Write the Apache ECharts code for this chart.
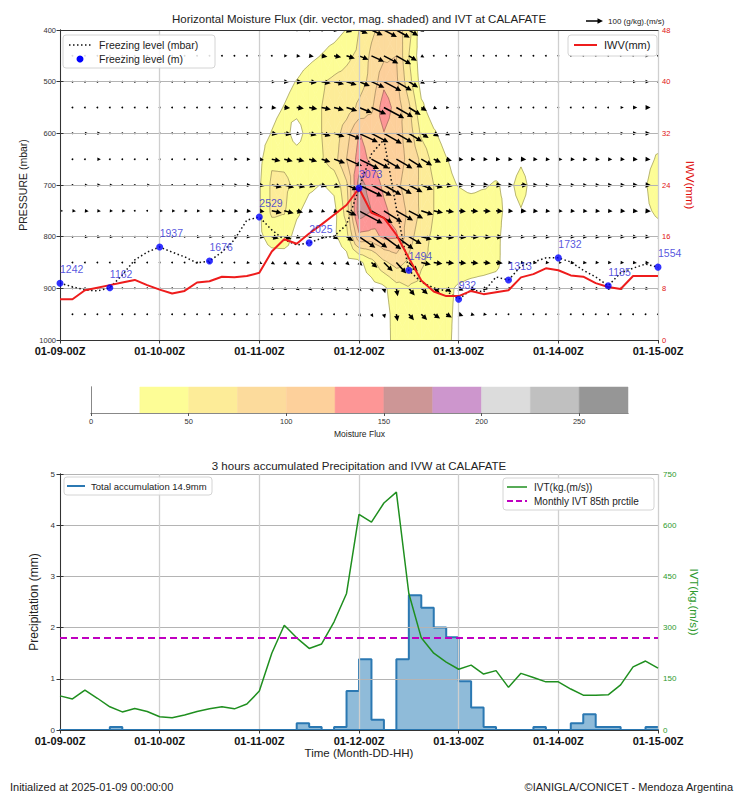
<!DOCTYPE html>
<html><head><meta charset="utf-8">
<script src="https://cdn.jsdelivr.net/npm/echarts@6/dist/echarts.min.js"></script>
<style>html,body{margin:0;padding:0;background:#fff}#c{width:741px;height:797px}</style>
</head><body><div id="c"></div>
<script>
// ---------------- DATA ----------------
const dayLabels = ['01-09-00Z','01-10-00Z','01-11-00Z','01-12-00Z','01-13-00Z','01-14-00Z','01-15-00Z'];
const hours = Array.from({length: 49}, (_, i) => i * 3);           // 3-hourly time steps (hours since init)
const pressureLevels = [400,450,500,550,600,650,700,750,800,850,900,950,1000];

// moisture flux magnitude, one row per pressure level (49 time steps)
const flux400  = [3,3,3,3,3,3,3,3, 3,3,3,3,3,3,4,4, 4,4,6,8,10,12,15,26, 50,70,85,90,60,10,6,5, 4,4,4,4,4,4,4,4, 4,4,4,4,4,4,4,4, 4];
const flux450  = [3,3,3,3,3,3,3,3, 3,3,3,3,3,4,4,5, 5,6,8,12,18,26,35,45, 55,80,95,100,50,10,6,4, 4,4,4,4,4,4,4,4, 4,4,4,4,4,4,5,10, 6];
const flux500  = [3,3,4,4,4,4,4,4, 4,4,4,5,5,5,5,5, 6,10,18,26,38,48,55,58, 65,82,118,105,60,15,8,5, 5,5,5,5,5,5,5,5, 5,5,5,5,5,6,8,12, 6];
const flux550  = [4,4,4,4,4,4,4,4, 4,4,4,5,5,6,6,6, 10,18,26,35,42,50,55,62, 80,95,140,115,80,30,12,8, 6,6,6,6,6,6,6,6, 6,6,6,6,6,8,15,20, 18];
const flux600  = [3,4,8,10,5,5,5,5, 5,5,5,5,5,5,6,8, 14,26,36,12,38,50,60,90, 126,115,124,110,90,45,28,15, 12,10,8,6,6,6,6,6, 6,6,6,6,6,8,14,20, 18];
const flux650  = [4,5,6,10,6,6,6,6, 6,6,6,6,6,6,8,10, 18,46,45,40,42,48,65,100, 135,120,115,110,95,70,40,26, 18,16,15,15,15,22,15,14, 14,14,14,14,14,15,18,20, 27];
const flux700  = [5,6,8,12,8,6,6,8, 6,6,6,6,8,8,10,15, 22,55,55,45,30,24,30,70, 160,140,120,105,90,70,50,30, 24,20,23,27,20,32,18,15, 14,14,14,15,16,18,20,24, 35];
const flux750  = [8,10,12,10,8,8,6,6, 8,8,8,8,10,10,12,15, 22,55,52,30,15,12,18,60, 165,150,130,115,95,70,50,40, 35,35,35,33,18,24,18,16, 16,15,15,16,16,18,20,22, 28];
const flux800  = [6,6,8,8,8,6,6,6, 6,6,6,8,8,8,10,12, 20,35,38,15,8,10,20,40, 118,115,130,128,85,60,45,40, 38,38,36,32,12,14,14,14, 14,14,14,14,14,15,15,16, 18];
const flux850  = [5,5,6,6,5,5,5,5, 5,5,5,5,6,6,6,8, 10,12,10,12,12,10,8,14, 18,40,70,85,70,52,45,40, 38,36,35,32,10,12,12,10, 10,12,12,10,10,10,12,12, 12];
const flux900  = [3,3,4,4,4,4,4,4, 4,3,3,3,4,4,4,5, 6,8,8,10,10,10,10,10, 12,14,20,40,48,45,40,30, 22,18,15,12,8,8,8,8, 8,8,8,8,8,8,8,10, 10];
const flux950  = [3,3,3,3,3,3,3,3, 3,3,3,3,3,3,3,3, 5,5,5,5,5,5,5,5, 8,10,15,35,40,42,38,30, 20,12,10,6,6,6,6,6, 6,6,6,6,6,6,6,6, 6];
const flux1000 = [2,2,2,2,2,2,2,2, 2,2,2,2,2,2,2,2, 2,2,2,2,2,2,2,2, 5,8,16,33,38,38,35,30, 18,10,4,4,4,4,4,4, 4,4,4,4,4,4,4,4, 4];
const fluxMag = [flux400,flux450,flux500,flux550,flux600,flux650,flux700,flux750,flux800,flux850,flux900,flux950,flux1000];

// flux vector direction, degrees below east (clockwise on screen)
const dir400 = [0,0,0,0,0,0,0,0, 0,0,0,0,0,0,0,0, 0,0,0,0,0,0,10,20, 22,25,28,30,32,30,0,0, 0,0,0,0,0,0,0,0, 0,0,0,0,0,0,0,0, 0];
const dir450 = [0,0,0,0,0,0,0,0, 0,0,0,0,0,0,0,0, 0,0,0,5,8,10,12,18, 22,25,28,30,32,30,0,0, 0,0,0,0,0,0,0,0, 0,0,0,0,0,0,0,0, 0];
const dir500 = [0,0,0,0,0,0,0,0, 0,0,0,0,0,0,0,0, 0,0,5,6,8,10,14,18, 22,25,28,30,32,30,10,0, 0,0,0,0,0,0,0,0, 0,0,0,0,0,0,0,0, 0];
const dir550 = [0,0,0,0,0,0,0,0, 0,0,0,0,0,0,0,0, 0,5,6,8,10,12,15,18, 22,25,28,30,32,32,25,5, 0,0,0,0,0,0,0,0, 0,0,0,0,0,0,0,0, 0];
const dir600 = [0,0,0,0,0,0,0,0, 0,0,0,0,0,0,0,0, 8,10,10,12,14,16,18,22, 25,28,30,30,32,32,30,25, 10,5,0,0,0,0,0,0, 0,0,0,0,0,0,0,0, 0];
const dir650 = [0,0,0,0,0,0,0,0, 0,0,0,0,0,0,0,0, 10,12,14,15,16,18,20,24, 26,28,30,30,32,30,25,15, 8,3,3,3,3,3,3,3, 3,3,3,3,3,3,3,3, 3];
const dir700 = [3,3,3,3,3,3,3,3, 3,3,3,3,3,3,3,3, 10,12,14,15,15,18,20,24, 26,28,30,30,28,22,15,10, 6,3,3,3,3,3,3,3, 3,3,3,3,3,3,3,3, 3];
const dir750 = [5,5,5,5,5,5,5,5, 5,5,5,5,5,5,5,5, 10,12,14,14,15,18,20,25, 28,30,32,30,28,18,12,8, 6,4,4,4,4,4,4,4, 4,4,4,4,4,4,4,4, 4];
const dir800 = [5,5,5,5,5,5,5,5, 5,5,5,5,5,5,5,5, 10,15,18,22,25,28,30,32, 34,35,36,36,30,15,10,8, 6,5,5,5,5,5,5,5, 5,5,5,5,5,5,5,5, 5];
const dir850 = [10,10,10,10,10,10,10,10, 10,10,10,10,10,10,10,10, 25,30,35,38,40,42,42,42, 42,42,45,48,45,12,8,6, 6,6,6,6,6,6,6,6, 6,6,6,6,6,6,6,6, 6];
const dir900 = [10,10,10,10,10,10,10,10, 10,10,10,10,10,10,10,10, 25,30,30,32,35,35,38,40, 50,65,75,80,50,42,40,38, 25,18,15,8,8,8,8,8, 8,8,8,8,8,8,8,8, 8];
const dir950 = [10,10,10,10,10,10,10,10, 10,10,10,10,10,10,10,10, 25,25,25,25,25,25,25,25, 45,60,75,80,50,45,35,30, 20,15,10,10,10,10,10,10, 10,10,10,10,10,10,10,10, 10];
const fluxDir = [dir400,dir450,dir500,dir550,dir600,dir650,dir700,dir750,dir800,dir850,dir900,dir950];

// contour levels and colours
const fluxLevels = [0,25,50,75,100,125,150,175,200,225,250,275];
const bandColors = ['#ffffff','#fdfd96','#fdec98','#fcdb9c','#fdd09b','#fd9696','#cd9696','#cd96cd','#dcdcdc','#c0c0c0','#969696'];

// freezing level (mbar) every 3 h
const frzPressure = [890,897,903,905,899,874,845,830,820,830,839,851,847,830,806,768,762,787,806,816,812,803,799,777,706,640,612,745,865,888,899,905,921,903,907,878,884,857,849,841,841,849,865,878,895,870,861,853,859];
// freezing level dots every 12 h
const frzDotHours = [0,12,24,36,48,60,72,84,96,108,120,132,144];
const frzDotPressure = [890,899,820,847,762,812,706,865,921,884,841,895,859];
const frzDotHeight = [1242,1162,1937,1676,2529,2025,3073,1494,932,1313,1732,1185,1554];
// IWV (mm) every 3 h
const iwv = [6.3,6.3,7.7,8.1,8.5,8.9,9.3,8.5,7.8,7.2,7.6,8.9,9.1,9.8,9.7,9.9,10.4,13.7,15.6,14.9,16.5,17.9,19.4,20.9,23.5,19.7,18.9,16.3,12.7,9.2,7.5,6.8,6.8,7.6,7.1,7.4,7.7,9.7,10.2,11.1,10.8,10.0,9.8,8.8,8.2,7.9,9.9,9.9,9.9];
// 3-hourly precipitation (mm), interval k spans hours[k]..hours[k+1]
const precip = [0,0,0,0,0.06,0,0,0, 0,0,0,0,0,0,0,0, 0,0,0,0.13,0.06,0,0.06,0.76, 1.38,0.2,0,1.38,2.63,2.39,2.0,1.81, 0.95,0.44,0.06,0,0,0,0.06,0, 0,0.13,0.31,0.06,0.06,0,0,0.06];
// IVT kg/(m s) every 3 h
const ivt = [100,91,117,93,68,53,63,54,39,36,44,54,62,68,62,76,114,225,307,270,239,252,317,400,632,609,665,697,400,270,225,199,178,190,164,174,125,166,154,141,141,120,102,102,103,132,185,202,181];
const ivtP85 = 270;
const totalAccum = '14.9mm';

// ---------------- HELPERS ----------------
const FONT = "'Liberation Sans', 'DejaVu Sans', Arial, sans-serif";
function arrowLen(mag) { return 2 + 0.15 * mag; }
function arrowPoints(len, ang) {
  const hl = 5.5, hw = 2.7, sw = 0.75;
  let pts;
  if (len > hl) pts = [[0,-sw],[len-hl,-sw],[len-hl,-hw],[len,0],[len-hl,hw],[len-hl,sw],[0,sw]];
  else { const s = len / hl; pts = [[0,-hw*s],[len,0],[0,hw*s]]; }
  const a = ang * Math.PI / 180, c = Math.cos(a), sn = Math.sin(a);
  return pts.map(([x,y]) => [x*c - y*sn, x*sn + y*c]);
}
function clipPoly(poly, val, keepAbove) {
  const out = [];
  for (let k = 0; k < poly.length; k++) {
    const a = poly[k], b = poly[(k+1) % poly.length];
    const ina = keepAbove ? a.v >= val : a.v <= val;
    const inb = keepAbove ? b.v >= val : b.v <= val;
    if (ina) out.push(a);
    if (ina !== inb) { const f = (val - a.v) / (b.v - a.v); out.push({x:a.x+f*(b.x-a.x), y:a.y+f*(b.y-a.y), v:val}); }
  }
  return out;
}
function cellTriangles(api) {
  const i = api.value(2), r = api.value(3);
  const corner = (a, b) => { const c = api.coord([hours[a], pressureLevels[b]]); return {x:c[0], y:c[1], v:fluxMag[b][a]}; };
  const p00 = corner(i, r), p10 = corner(i+1, r), p11 = corner(i+1, r+1), p01 = corner(i, r+1);
  const ctr = {x:(p00.x+p10.x+p11.x+p01.x)/4, y:(p00.y+p10.y+p11.y+p01.y)/4, v:(p00.v+p10.v+p11.v+p01.v)/4};
  return [[p00,p10,ctr],[p10,p11,ctr],[p11,p01,ctr],[p01,p00,ctr]];
}
function renderFill(params, api) {
  const children = [];
  for (const tri of cellTriangles(api)) {
    for (let k = 1; k < bandColors.length; k++) {
      let poly = clipPoly(tri, fluxLevels[k], true); if (poly.length < 3) continue;
      poly = clipPoly(poly, fluxLevels[k+1], false); if (poly.length < 3) continue;
      children.push({type:'polygon', shape:{points: poly.map(p => [p.x, p.y])}, style:{fill: bandColors[k], stroke: bandColors[k], lineWidth: 0.6}});
    }
  }
  return {type:'group', children};
}
function renderIso(params, api) {
  const children = [];
  for (const tri of cellTriangles(api)) {
    for (let k = 1; k < fluxLevels.length - 1; k++) {
      const L = fluxLevels[k], pts = [];
      for (let e = 0; e < 3; e++) {
        const a = tri[e], b = tri[(e+1) % 3];
        if ((a.v < L) !== (b.v < L)) { const f = (L - a.v) / (b.v - a.v); pts.push([a.x+f*(b.x-a.x), a.y+f*(b.y-a.y)]); }
      }
      if (pts.length === 2) children.push({type:'line', shape:{x1:pts[0][0], y1:pts[0][1], x2:pts[1][0], y2:pts[1][1]}, style:{stroke:'rgba(60,50,20,0.6)', lineWidth:0.6}});
    }
  }
  return {type:'group', children};
}
function renderArrow(params, api) {
  const c = api.coord([api.value(0), api.value(1)]);
  const mag = api.value(2), ang = api.value(3);
  if (mag < 7) return {type:'circle', shape:{cx:c[0], cy:c[1], r:0.9}, style:{fill:'#000'}};
  const pts = arrowPoints(arrowLen(mag), ang).map(([x,y]) => [x + c[0], y + c[1]]);
  return {type:'polygon', shape:{points: pts}, style:{fill:'#000'}};
}
function renderColorbar(params, api) {
  const k = params.dataIndex;
  const p1 = api.coord([api.value(0), 1]), p2 = api.coord([api.value(1), 0]);
  return {type:'rect', shape:{x:p1[0], y:p1[1], width:p2[0]-p1[0], height:p2[1]-p1[1]}, style:{fill: bandColors[k], stroke: bandColors[k], lineWidth: 0.5}};
}

const cells = [];
for (let r = 0; r < pressureLevels.length - 1; r++) for (let i = 0; i < hours.length - 1; i++) cells.push([hours[i], pressureLevels[r], i, r]);
const arrows = [];
for (let r = 0; r < fluxDir.length; r++) for (let i = 0; i < hours.length; i++) arrows.push([hours[i], pressureLevels[r], fluxMag[r][i], fluxDir[r][i]]);
const bands = bandColors.map((c, k) => [fluxLevels[k], fluxLevels[k+1]]);
const precipSteps = precip.map((v, k) => [hours[k], v]).concat([[hours[48], precip[47]]]);

// ---------------- AXES ----------------
const axisLineStyle = {show:true, lineStyle:{color:'#333', width:1}};
const tick = {show:true, length:3.5, lineStyle:{color:'#333'}};
const vGrid = {show:true, lineStyle:{color:'#cfcfcf', width:1.3}};
const hGrid = {show:true, lineStyle:{color:'#b4b4b4', width:1}};
const plain = v => String(v);
function timeAxis(gridIndex) {
  return {type:'value', gridIndex, min:0, max:144, interval:24, z:2,
    axisLine: axisLineStyle, axisTick: tick, splitLine: vGrid,
    axisLabel:{margin:5, fontSize:11, fontWeight:'bold', color:'#111', fontFamily:FONT, formatter: v => dayLabels[v/24] || ''}};
}
function topLine(gridIndex, max) {
  return {type:'value', gridIndex, position:'top', min:0, max, z:2, axisLine: axisLineStyle, axisTick:{show:false}, axisLabel:{show:false}, splitLine:{show:false}};
}
const bottomTime = timeAxis(1);
bottomTime.axisLine = {show:true, lineStyle:{color:'#2b78b2', width:2}};
bottomTime.name = 'Time (Month-DD-HH)';
bottomTime.nameLocation = 'middle';
bottomTime.nameGap = 16;
bottomTime.nameTextStyle = {fontSize:11.5, color:'#222', fontFamily:FONT};

const option = {
  animation: false,
  backgroundColor: '#fff',
  grid: [
    {left:60, top:30, width:598, height:310},
    {left:60, top:474, width:598, height:256},
    {left:91, top:387, width:537, height:26}
  ],
  xAxis: [
    timeAxis(0),
    topLine(0, 144),
    bottomTime,
    topLine(1, 144),
    {type:'value', gridIndex:2, min:0, max:275, interval:50, z:2,
      axisLine:{show:true, lineStyle:{color:'#888'}}, axisTick:{show:true, length:3, lineStyle:{color:'#555'}}, splitLine:{show:false},
      axisLabel:{fontSize:7.5, color:'#333', margin:4, fontFamily:FONT, showMaxLabel:false, formatter: plain},
      name:'Moisture Flux', nameLocation:'middle', nameGap:16, nameTextStyle:{fontSize:8.5, color:'#222', fontFamily:FONT}},
    {type:'value', gridIndex:2, position:'top', min:0, max:275, z:2, axisLine:{show:true, lineStyle:{color:'#888'}}, axisTick:{show:false}, axisLabel:{show:false}, splitLine:{show:false}}
  ],
  yAxis: [
    {type:'value', gridIndex:0, inverse:true, min:400, max:1000, interval:100, z:2,
      axisLine: axisLineStyle, axisTick: tick, splitLine: hGrid,
      axisLabel:{fontSize:7.5, color:'#333', margin:4, fontFamily:FONT, formatter: plain},
      name:'PRESSURE (mbar)', nameLocation:'middle', nameGap:26, nameRotate:90, nameTextStyle:{fontSize:10.5, color:'#222', fontFamily:FONT}},
    {type:'value', gridIndex:0, position:'right', min:0, max:48, interval:8, z:2,
      axisLine: axisLineStyle, axisTick: tick, splitLine:{show:false},
      axisLabel:{fontSize:7.5, color:'#e01010', margin:4, fontFamily:FONT, formatter: plain},
      name:'IWV(mm)', nameLocation:'middle', nameGap:26, nameRotate:-90, nameTextStyle:{fontSize:11.5, color:'#e01010', fontFamily:FONT}},
    {type:'value', gridIndex:1, min:0, max:5, interval:1, z:2,
      axisLine: axisLineStyle, axisTick: tick, splitLine: hGrid,
      axisLabel:{fontSize:8, color:'#333', margin:5, fontFamily:FONT, formatter: plain},
      name:'Precipitation (mm)', nameLocation:'middle', nameGap:13, nameRotate:90, nameTextStyle:{fontSize:12, color:'#222', fontFamily:FONT}},
    {type:'value', gridIndex:1, position:'right', min:0, max:750, interval:150, z:2,
      axisLine: axisLineStyle, axisTick: tick, splitLine:{show:false},
      axisLabel:{fontSize:8, color:'#2e9a2e', margin:5, fontFamily:FONT, formatter: plain},
      name:'IVT(kg.(m/s))', nameLocation:'middle', nameGap:30, nameRotate:-90, nameTextStyle:{fontSize:11.5, color:'#2e9a2e', fontFamily:FONT}},
    {type:'value', gridIndex:2, min:0, max:1, z:2, axisLine:{show:true, lineStyle:{color:'#888'}}, axisTick:{show:false}, axisLabel:{show:false}, splitLine:{show:false}},
    {type:'value', gridIndex:2, position:'right', min:0, max:1, z:2, axisLine:{show:true, lineStyle:{color:'#888'}}, axisTick:{show:false}, axisLabel:{show:false}, splitLine:{show:false}}
  ],
  series: [
    {type:'custom', name:'flux-fill', xAxisIndex:0, yAxisIndex:0, z:1, silent:true, renderItem: renderFill, encode:{x:0, y:1}, data: cells},
    {type:'custom', name:'flux-iso', xAxisIndex:0, yAxisIndex:0, z:1, silent:true, renderItem: renderIso, encode:{x:0, y:1}, data: cells},
    {type:'custom', name:'flux-vectors', xAxisIndex:0, yAxisIndex:0, z:1, silent:true, clip:true, renderItem: renderArrow, encode:{x:0, y:1}, data: arrows},
    {type:'line', name:'Freezing level (mbar)', xAxisIndex:0, yAxisIndex:0, z:3, symbol:'none',
      lineStyle:{color:'#111', width:1.5, type:[1.5,2.5]}, data: frzPressure.map((p, i) => [hours[i], p])},
    {type:'line', name:'IWV(mm)', xAxisIndex:0, yAxisIndex:1, z:3, symbol:'none',
      lineStyle:{color:'#ee1c1c', width:2}, data: iwv.map((v, i) => [hours[i], v])},
    {type:'scatter', name:'Freezing level (m)', xAxisIndex:0, yAxisIndex:0, z:4, symbolSize:7, itemStyle:{color:'#0000ff'},
      label:{show:true, position:[3.5,-5], align:'left', verticalAlign:'bottom', color:'#2a2ad6', fontSize:10.5, fontFamily:FONT, formatter: p => String(p.value[2])},
      data: frzDotHours.map((h, k) => [h, frzDotPressure[k], frzDotHeight[k]])},
    {type:'line', name:'Total accumulation', xAxisIndex:2, yAxisIndex:2, z:1, step:'end', symbol:'none',
      lineStyle:{color:'#2b78b2', width:2}, areaStyle:{color:'rgba(31,119,180,0.5)', opacity:1}, data: precipSteps},
    {type:'line', name:'IVT(kg.(m/s))', xAxisIndex:2, yAxisIndex:3, z:3, symbol:'none',
      lineStyle:{color:'#1f8f1f', width:1.5}, data: ivt.map((v, i) => [hours[i], v]),
      markLine:{silent:true, symbol:'none', label:{show:false}, lineStyle:{color:'#c000c0', type:[7,4], width:2}, data:[{yAxis: ivtP85}]}},
    {type:'custom', name:'colorbar', xAxisIndex:4, yAxisIndex:4, z:1, silent:true, renderItem: renderColorbar, encode:{x:[0,1]}, data: bands}
  ],
  graphic: [
    {type:'text', z:10, style:{text:'Horizontal Moisture Flux (dir. vector, mag. shaded) and IVT at CALAFATE', x:359, y:19, align:'center', verticalAlign:'middle', fontSize:11.5, fontFamily:FONT, fill:'#222'}},
    {type:'polygon', z:10, shape:{points: arrowPoints(arrowLen(100), 0).map(([x,y]) => [x+586, y+21])}, style:{fill:'#000'}},
    {type:'text', z:10, style:{text:'100 (g/kg).(m/s)', x:608, y:21, align:'left', verticalAlign:'middle', fontSize:8, fontFamily:FONT, fill:'#222'}},
    // top legends
    {type:'rect', z:10, shape:{x:63, y:35, width:152, height:33, r:3}, style:{fill:'rgba(255,255,255,0.85)', stroke:'#d4d4d4', lineWidth:1}},
    {type:'line', z:11, shape:{x1:69, y1:45, x2:92, y2:45}, style:{stroke:'#111', lineWidth:1.5, lineDash:[1.5,2.5]}},
    {type:'text', z:11, style:{text:'Freezing level (mbar)', x:99, y:45, align:'left', verticalAlign:'middle', fontSize:10.5, fontFamily:FONT, fill:'#222'}},
    {type:'circle', z:11, shape:{cx:80, cy:59, r:3.5}, style:{fill:'#0000ff'}},
    {type:'text', z:11, style:{text:'Freezing level (m)', x:99, y:59, align:'left', verticalAlign:'middle', fontSize:10.5, fontFamily:FONT, fill:'#222'}},
    {type:'rect', z:10, shape:{x:568, y:35, width:89, height:21, r:3}, style:{fill:'rgba(255,255,255,0.85)', stroke:'#d4d4d4', lineWidth:1}},
    {type:'line', z:11, shape:{x1:574, y1:45, x2:597, y2:45}, style:{stroke:'#ee1c1c', lineWidth:2}},
    {type:'text', z:11, style:{text:'IWV(mm)', x:604, y:45, align:'left', verticalAlign:'middle', fontSize:11, fontFamily:FONT, fill:'#222'}},
    // bottom title & legends
    {type:'text', z:10, style:{text:'3 hours accumulated Precipitation and IVW at CALAFATE', x:359, y:466, align:'center', verticalAlign:'middle', fontSize:11.5, fontFamily:FONT, fill:'#222'}},
    {type:'rect', z:10, shape:{x:64, y:477, width:148, height:18, r:3}, style:{fill:'rgba(255,255,255,0.85)', stroke:'#d4d4d4', lineWidth:1}},
    {type:'line', z:11, shape:{x1:67, y1:486, x2:85, y2:486}, style:{stroke:'#2b78b2', lineWidth:2}},
    {type:'text', z:11, style:{text:'Total accumulation ' + totalAccum, x:91, y:486, align:'left', verticalAlign:'middle', fontSize:9.5, fontFamily:FONT, fill:'#222'}},
    {type:'rect', z:10, shape:{x:503, y:478, width:151, height:32, r:3}, style:{fill:'rgba(255,255,255,0.85)', stroke:'#d4d4d4', lineWidth:1}},
    {type:'line', z:11, shape:{x1:507, y1:487, x2:527, y2:487}, style:{stroke:'#1f8f1f', lineWidth:1.5}},
    {type:'text', z:11, style:{text:'IVT(kg.(m/s))', x:534, y:487, align:'left', verticalAlign:'middle', fontSize:10, fontFamily:FONT, fill:'#222'}},
    {type:'line', z:11, shape:{x1:507, y1:501, x2:527, y2:501}, style:{stroke:'#c000c0', lineWidth:2, lineDash:[6,3]}},
    {type:'text', z:11, style:{text:'Monthly IVT 85th prctile', x:534, y:501, align:'left', verticalAlign:'middle', fontSize:10, fontFamily:FONT, fill:'#222'}},
    // footer
    {type:'text', z:10, style:{text:'Initialized at 2025-01-09 00:00:00', x:10, y:787, align:'left', verticalAlign:'middle', fontSize:11, fontFamily:FONT, fill:'#222'}},
    {type:'text', z:10, style:{text:'©IANIGLA/CONICET - Mendoza Argentina', x:733, y:787, align:'right', verticalAlign:'middle', fontSize:11, fontFamily:FONT, fill:'#222'}}
  ]
};
const chart = echarts.init(document.getElementById('c'), null, {renderer:'svg'});
chart.setOption(option);
</script>
</body></html>
